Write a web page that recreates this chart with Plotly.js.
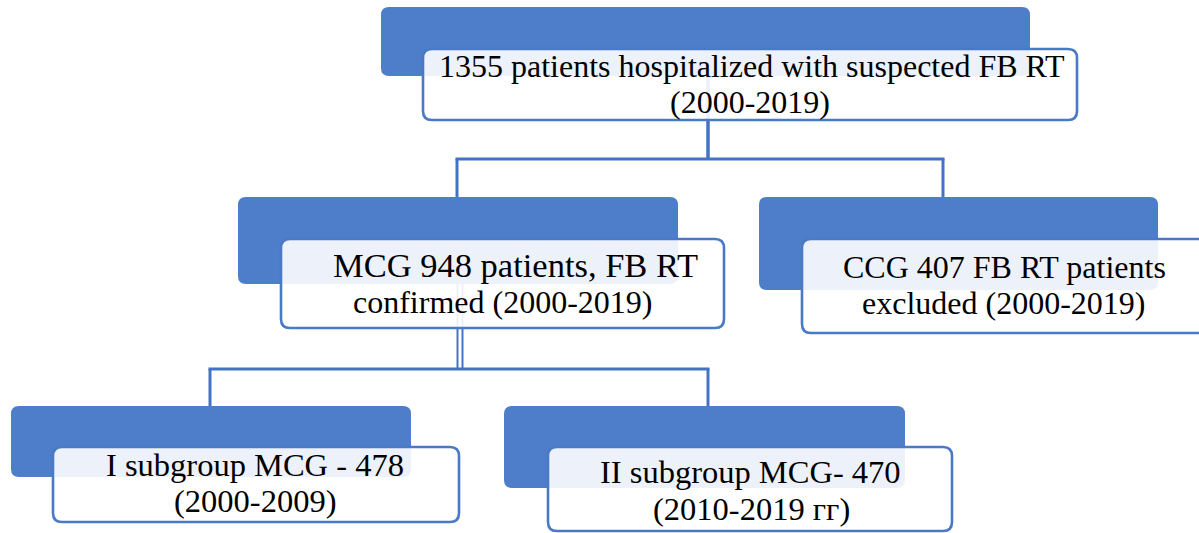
<!DOCTYPE html>
<html>
<head>
<meta charset="utf-8">
<script src="https://cdn.plot.ly/plotly-3.0.1.min.js"></script>
<style>html,body{margin:0;padding:0;background:#fff;}#chart{width:1199px;height:533px;}</style>
</head>
<body>
<div id="chart"></div>
<script>
// ---- data ----
const nodeLine1 = [
  "1355 patients hospitalized with suspected FB RT",
  "MCG 948 patients, FB RT",
  "CCG 407 FB RT patients",
  "I subgroup MCG - 478",
  "II subgroup MCG- 470"
];
const nodeLine2 = [
  "(2000-2019)",
  "confirmed (2000-2019)",
  "excluded (2000-2019)",
  "(2000-2009)",
  "(2010-2019 гг)"
];
const nodeParent = [-1, 0, 0, 1, 1];

// ---- geometry (layout only) ----
const blueRect  = [[381,7,1030,76],[238,197,678,284],[759,197,1158,290],[11,406,411,477],[504,406,905,488]];
const whiteRect = [[423,49,1077,120],[281,239,724,328],[802,239,1216,333],[53,447,459,522],[548,447,952,531]];
const line1Pos  = [[752,66],[515,265],[1004,267],[255,465],[750,472]];
const line2Pos  = [[750,102],[502,302],[1003,303],[255,501],[751,509]];
const line1Size = [32, 34.5, 32, 32.5, 32.5];
const line2Size = [32, 32, 32, 32.5, 32.5];
const stemX     = [708, 460, null, null, null];
const busY      = [159, 369, null, null, null];
const dropX     = [null, 457, 943, 210, 708];
const doubleStem = [false, true, false, false, false];

// ---- styles ----
const BLUE = "#4E7DC9";
const LINE = "#4472C4";
const BORDER = "#4A79C6";
const FONT = "Liberation Serif, Times New Roman, serif";

function rr(b, r) {
  const [x0,y0,x1,y1] = b;
  return `M${x0+r},${y0} L${x1-r},${y0} Q${x1},${y0} ${x1},${y0+r} L${x1},${y1-r} Q${x1},${y1} ${x1-r},${y1} L${x0+r},${y1} Q${x0},${y1} ${x0},${y1-r} L${x0},${y0+r} Q${x0},${y0} ${x0+r},${y0} Z`;
}

const shapes = [];
const annotations = [];

// connectors
nodeParent.forEach((p, i) => {
  if (p < 0) return;
  shapes.push({type:"line", xref:"x", yref:"y", x0:dropX[i], x1:dropX[i], y0:busY[p], y1:blueRect[i][1],
    line:{color:LINE, width:3}});
});
nodeParent.forEach((p0, i) => {
  const kids = [];
  nodeParent.forEach((p, j) => { if (p === i) kids.push(j); });
  if (!kids.length) return;
  const xs = kids.map(k => dropX[k]);
  const minX = Math.min(...xs), maxX = Math.max(...xs);
  shapes.push({type:"line", xref:"x", yref:"y", x0:minX-1.5, x1:maxX+1.5, y0:busY[i], y1:busY[i],
    line:{color:LINE, width:3}});
  if (doubleStem[i]) {
    [-2.5, 2.5].forEach(d => shapes.push({type:"line", xref:"x", yref:"y", x0:stemX[i]+d, x1:stemX[i]+d,
      y0:blueRect[i][3], y1:busY[i], line:{color:LINE, width:2}}));
  } else {
    shapes.push({type:"line", xref:"x", yref:"y", x0:stemX[i], x1:stemX[i], y0:blueRect[i][3], y1:busY[i],
      line:{color:LINE, width:3.5}});
  }
});

// boxes
nodeLine1.forEach((t, i) => {
  shapes.push({type:"path", xref:"x", yref:"y", path:rr(blueRect[i], 8), fillcolor:BLUE, line:{width:0}});
  shapes.push({type:"path", xref:"x", yref:"y", path:rr(whiteRect[i], 9), fillcolor:"rgba(255,255,255,0.9)",
    line:{color:BORDER, width:2.6}});
  annotations.push({x:line1Pos[i][0], y:line1Pos[i][1], xref:"x", yref:"y", text:nodeLine1[i], showarrow:false,
    xanchor:"center", yanchor:"middle", borderpad:0, font:{family:FONT, size:line1Size[i], color:"#000"}});
  annotations.push({x:line2Pos[i][0], y:line2Pos[i][1], xref:"x", yref:"y", text:nodeLine2[i], showarrow:false,
    xanchor:"center", yanchor:"middle", borderpad:0, font:{family:FONT, size:line2Size[i], color:"#000"}});
});

const layout = {
  width:1199, height:533,
  margin:{l:0, r:0, t:0, b:0},
  paper_bgcolor:"#fff", plot_bgcolor:"#fff",
  xaxis:{range:[0,1199], visible:false, fixedrange:true},
  yaxis:{range:[533,0], visible:false, fixedrange:true},
  shapes, annotations, showlegend:false
};
Plotly.newPlot("chart", [], layout, {displayModeBar:false, staticPlot:true});
</script>
</body>
</html>
